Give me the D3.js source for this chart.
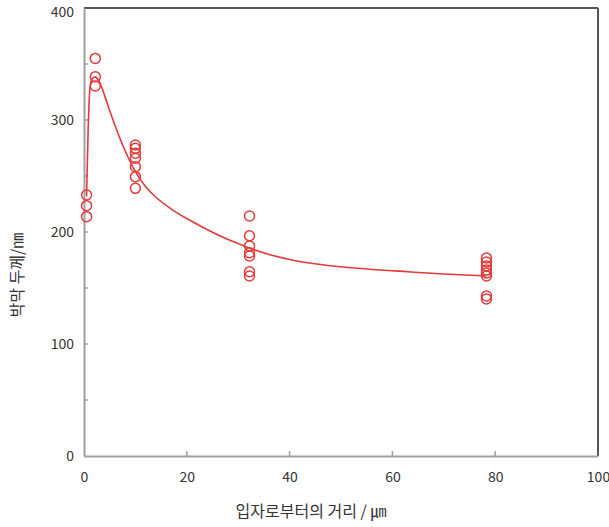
<!DOCTYPE html>
<html>
<head>
<meta charset="utf-8">
<script src="https://cdn.jsdelivr.net/npm/d3@7"></script>
<style>
  body { margin: 0; background: #fff; }
  svg text { font-family: "Noto Sans CJK KR", "DejaVu Sans", sans-serif; fill: #333; }
</style>
</head>
<body>
<div id="chart"></div>
<script>
// measured film thickness by distance from the particle
const X_POINTS = [0.5, 2.2, 10, 32.2, 78.3]
const Y_POINTS = [
  [233, 223.5, 213.7],
  [355, 338.6, 330.4],
  [277.7, 274.7, 270.3, 265.8, 258.3, 249.4, 239],
  [214.3, 196.7, 187.5, 181.5, 178.6, 164.5, 160.7],
  [176.8, 173.2, 169.6, 166, 163.4, 160.7, 142.9, 140.2]
]

// fitted curve
const CURVE_X = [0.5, 0.8, 1.1, 1.5, 2.2, 3, 4, 5, 6, 7, 8, 9, 10, 11, 12, 14, 17, 20, 23, 26.5, 29, 32, 36, 40, 46, 55, 63, 70, 78.3]
const CURVE_Y = [232, 290, 325, 336, 338.5, 334, 322, 308.5, 295.5, 283.5, 272.5, 262.5, 254, 246.5, 240.5, 231, 220.5, 212, 204.5, 196.5, 191.5, 186, 180, 175.5, 171, 167, 164.5, 162.5, 160.7]

const X_TICKS = [0, 20, 40, 60, 80, 100]
const Y_TICKS = [0, 100, 200, 300, 400]
const Y_MINOR = [50, 100, 150, 200, 250, 300, 350]
const X_MINOR = [20, 40, 60, 80]

const X_TITLE = '입자로부터의 거리 / ㎛'
const Y_TITLE = '박막 두께/㎚'

// ===================================================================

const WIDTH = 609
const HEIGHT = 527
const LEFT = 84
const RIGHT = 598
const TOP = 8
const BOTTOM = 456

const RED = '#e23a3a'

const x = d3.scaleLinear().domain([0, 100]).range([LEFT, RIGHT])
const y = d3.scaleLinear().domain([0, 400]).range([BOTTOM, TOP])

const svg = d3.select('#chart')
  .append('svg')
    .attr('width', WIDTH)
    .attr('height', HEIGHT)

// frame: top and right darker
svg.append('line')
  .attr('x1', LEFT).attr('x2', RIGHT).attr('y1', TOP).attr('y2', TOP)
  .attr('stroke', '#555').attr('stroke-width', 2)
svg.append('line')
  .attr('x1', RIGHT).attr('x2', RIGHT).attr('y1', TOP).attr('y2', BOTTOM)
  .attr('stroke', '#555').attr('stroke-width', 2)

// bottom axis
const xAxis = svg.append('g')
  .attr('transform', `translate(0, ${BOTTOM})`)
  .call(d3.axisBottom(x).tickValues(X_TICKS).tickSize(0).tickPadding(16))
xAxis.select('.domain').attr('stroke', '#a0a0a0').attr('stroke-width', 2)
xAxis.selectAll('text').style('font-size', '14px')

svg.append('g')
  .selectAll('line')
  .data(X_MINOR)
  .join('line')
    .attr('x1', d => x(d)).attr('x2', d => x(d))
    .attr('y1', BOTTOM).attr('y2', BOTTOM - 5)
    .attr('stroke', '#a0a0a0').attr('stroke-width', 1.5)

// left axis
const yAxis = svg.append('g')
  .attr('transform', `translate(${LEFT}, 0)`)
  .call(d3.axisLeft(y).tickValues(Y_TICKS).tickSize(0).tickPadding(10))
yAxis.select('.domain').attr('stroke', '#a0a0a0').attr('stroke-width', 2)
yAxis.selectAll('text').style('font-size', '14px')
// keep the top label inside the page
yAxis.selectAll('.tick')
  .filter(d => d === 400)
  .select('text')
    .attr('dy', '0.6em')

svg.append('g')
  .selectAll('line')
  .data(Y_MINOR)
  .join('line')
    .attr('x1', LEFT).attr('x2', LEFT + 4)
    .attr('y1', d => y(d)).attr('y2', d => y(d))
    .attr('stroke', '#a0a0a0').attr('stroke-width', 1.5)

// titles
svg.append('text')
  .attr('x', 311)
  .attr('y', 517)
  .attr('text-anchor', 'middle')
  .style('font-size', '16px')
  .text(X_TITLE)

svg.append('text')
  .attr('transform', `translate(23, 275) rotate(-90)`)
  .attr('text-anchor', 'middle')
  .style('font-size', '16px')
  .text(Y_TITLE)

// curve
const curveData = CURVE_X.map((d, i) => [d, CURVE_Y[i]])
const line = d3.line()
  .x(d => x(d[0]))
  .y(d => y(d[1]))
  .curve(d3.curveMonotoneX)

svg.append('path')
  .datum(curveData)
  .attr('d', line)
  .attr('fill', 'none')
  .attr('stroke', RED)
  .attr('stroke-width', 1.6)

// points
const points = X_POINTS.flatMap((xv, i) => Y_POINTS[i].map(yv => ({ x: xv, y: yv })))

svg.append('g')
  .selectAll('circle')
  .data(points)
  .join('circle')
    .attr('cx', d => x(d.x))
    .attr('cy', d => y(d.y))
    .attr('r', 5)
    .attr('fill', 'none')
    .attr('stroke', RED)
    .attr('stroke-width', 1.5)
</script>
</body>
</html>
